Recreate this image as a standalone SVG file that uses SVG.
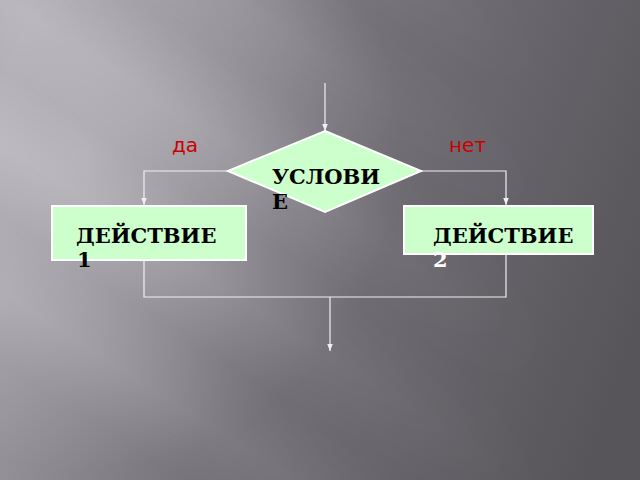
<svg xmlns="http://www.w3.org/2000/svg" width="640" height="480" viewBox="0 0 640 480">
<defs>
<style>
.conn{fill:none;stroke:#f0f0f0;stroke-width:1.2}
.shape{fill:#ccffcc;stroke:#ffffff;stroke-width:2}
.lbl{font-family:"DejaVu Serif","Liberation Serif",serif;font-weight:bold;font-size:21px;fill:#000}
.yn{font-family:"DejaVu Sans","Liberation Sans",sans-serif;font-size:20px;fill:#cc0000}
</style>
<marker id="ah" viewBox="0 0 10 10" refX="10" refY="5" markerWidth="7" markerHeight="7" markerUnits="userSpaceOnUse" orient="auto">
<path d="M0,1 L10,5 L0,9 Z" fill="#f0f0f0"/>
</marker>
<linearGradient id="bg" gradientUnits="userSpaceOnUse" x1="0" y1="100" x2="640" y2="320">
<stop offset="0" stop-color="#a6a3aa"/>
<stop offset="0.45" stop-color="#76737a"/>
<stop offset="1" stop-color="#57555a"/>
</linearGradient>
<radialGradient id="glow" gradientUnits="userSpaceOnUse" cx="80" cy="150" r="320">
<stop offset="0" stop-color="#c8c5cc" stop-opacity="0.55"/>
<stop offset="1" stop-color="#c8c5cc" stop-opacity="0"/>
</radialGradient>
<linearGradient id="streak" gradientUnits="userSpaceOnUse" x1="420" y1="-120" x2="0" y2="530">
<stop offset="0" stop-color="#fff" stop-opacity="0"/>
<stop offset="0.12" stop-color="#fff" stop-opacity="0.12"/>
<stop offset="0.18" stop-color="#fff" stop-opacity="0"/>
<stop offset="0.26" stop-color="#fff" stop-opacity="0.1"/>
<stop offset="0.33" stop-color="#fff" stop-opacity="0"/>
<stop offset="0.42" stop-color="#fff" stop-opacity="0.14"/>
<stop offset="0.5" stop-color="#fff" stop-opacity="0.02"/>
<stop offset="0.58" stop-color="#fff" stop-opacity="0.13"/>
<stop offset="0.66" stop-color="#fff" stop-opacity="0"/>
<stop offset="0.74" stop-color="#fff" stop-opacity="0.11"/>
<stop offset="0.82" stop-color="#fff" stop-opacity="0"/>
<stop offset="1" stop-color="#fff" stop-opacity="0"/>
</linearGradient>
<linearGradient id="fadeR" gradientUnits="userSpaceOnUse" x1="0" y1="0" x2="560" y2="0">
<stop offset="0" stop-color="#fff"/>
<stop offset="1" stop-color="#000"/>
</linearGradient>
<mask id="m"><rect width="640" height="480" fill="url(#fadeR)"/></mask>
</defs>
<g id="background">
<rect width="640" height="480" fill="url(#bg)"/>
<rect width="640" height="480" fill="url(#glow)"/>
<rect width="640" height="480" fill="url(#streak)" mask="url(#m)"/>
</g>
<g id="connectors">
<line class="conn" x1="325" y1="83" x2="325" y2="131" marker-end="url(#ah)"/>
<polyline class="conn" points="228,171 144,171 144,205" marker-end="url(#ah)"/>
<polyline class="conn" points="421,171 506,171 506,205" marker-end="url(#ah)"/>
<polyline class="conn" points="144,260 144,297 506,297 506,254"/>
<line class="conn" x1="330" y1="297" x2="330" y2="351" marker-end="url(#ah)"/>
</g>
<g id="label-yes"><text class="yn" x="172" y="152">да</text></g>
<g id="label-no"><text class="yn" x="449" y="152">нет</text></g>
<g id="condition">
<polygon class="shape" points="325,131 421,171 325,212 228,171"/>
<text class="lbl" x="272" y="184">УСЛОВИ</text>
<text class="lbl" x="272" y="209">Е</text>
</g>
<g id="action1">
<rect class="shape" x="52" y="206" width="194" height="54"/>
<text class="lbl" x="76" y="243">ДЕЙСТВИЕ</text>
<text class="lbl" x="77" y="267">1</text>
</g>
<g id="action2">
<rect class="shape" x="404" y="206" width="189" height="48"/>
<text class="lbl" x="433" y="243">ДЕЙСТВИЕ</text>
<text class="lbl" x="433" y="267" style="fill:#ffffff">2</text>
</g>
</svg>
